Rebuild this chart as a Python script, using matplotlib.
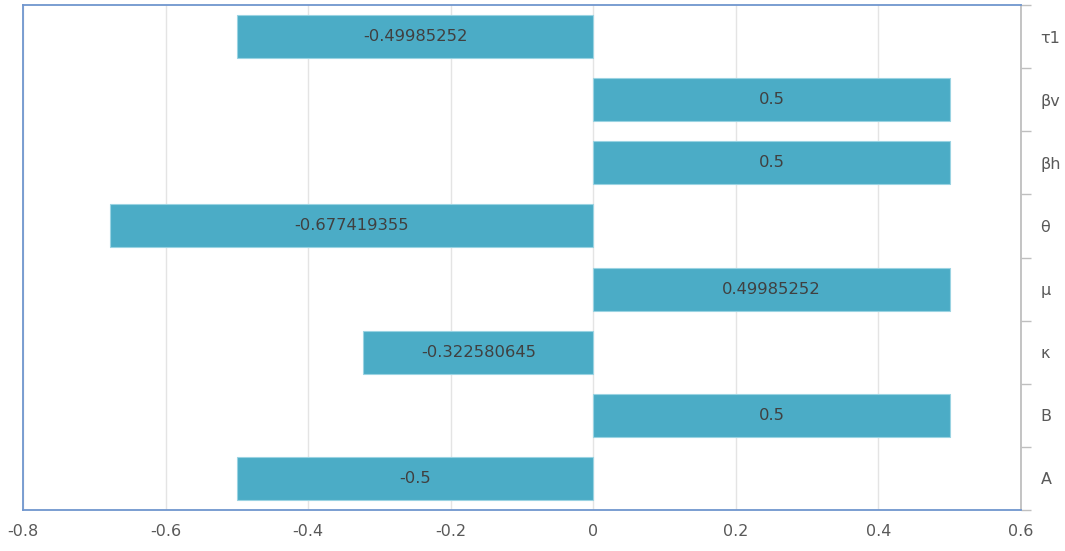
import matplotlib.pyplot as plt
import numpy as np
from matplotlib.ticker import FixedLocator

# sensitivity indices, bottom to top
params = ['A', 'B', 'κ', 'μ', 'θ', 'βh', 'βv', 'τ1']
values = [-0.5, 0.5, -0.322580645, 0.49985252, -0.677419355, 0.5, 0.5, -0.49985252]
labels = ['-0.5', '0.5', '-0.322580645', '0.49985252', '-0.677419355', '0.5', '0.5', '-0.49985252']

bar_color = '#4BACC6'
text_color = '#404040'
tick_color = '#595959'

fig = plt.figure(figsize=(10.65, 5.51), dpi=100)
ax = fig.add_axes([0.0216, 0.0744, 0.9371, 0.9165])

y = np.arange(len(params))
bars = ax.barh(y, values, height=0.68, color=bar_color, edgecolor='#9ad3e2',
               linewidth=0.8, zorder=3)

for b, txt in zip(bars, labels):
    cx = b.get_x() + b.get_width() / 2
    cy = b.get_y() + b.get_height() / 2
    ax.text(cx, cy, txt, ha='center', va='center', fontsize=11.8,
            color=text_color, zorder=4)

ax.set_xlim(-0.8, 0.6)
ax.set_ylim(-0.5, len(params) - 0.5)
ax.set_xticks(np.arange(-0.8, 0.61, 0.2))
ax.set_xticklabels(['-0.8', '-0.6', '-0.4', '-0.2', '0', '0.2', '0.4', '0.6'])
ax.grid(axis='x', color='#E4E4E4', linewidth=1, zorder=0)

# category axis sits on the right, ticks between categories
ax.yaxis.tick_right()
ax.set_yticks(y)
ax.set_yticklabels(params)
ax.yaxis.set_minor_locator(FixedLocator(np.arange(-0.5, len(params), 1.0)))
ax.tick_params(axis='y', which='major', length=0, pad=14, labelsize=11.5,
               labelcolor=tick_color)
ax.tick_params(axis='y', which='minor', length=7, width=1, color='#BFBFBF',
               direction='out')
ax.tick_params(axis='x', length=0, pad=10, labelsize=11.5, labelcolor=tick_color)

for side in ['left', 'top', 'bottom']:
    ax.spines[side].set_color('#7096CE')
    ax.spines[side].set_linewidth(1.3)
ax.spines['right'].set_color('#BFBFBF')
ax.spines['right'].set_linewidth(1.3)

fig.savefig('out.png', dpi=100)
